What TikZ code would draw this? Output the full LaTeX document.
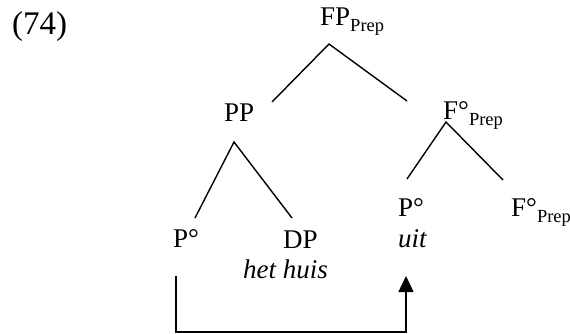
\documentclass[tikz,border=0pt]{standalone}
\usepackage{fontspec}
\setmainfont{Liberation Serif}
\usetikzlibrary{arrows.meta}
\newcommand{\sbs}[1]{\raisebox{-6pt}{\fontsize{18.5}{22}\selectfont #1}}
\begin{document}
\begin{tikzpicture}[x=1pt,y=-1pt,
  lbl/.style={inner sep=0pt,anchor=base west,font=\fontsize{27}{32}\selectfont},
  edge/.style={line width=1.4pt},
  mv/.style={line width=1.5pt}]
\useasboundingbox (0,0) rectangle (570,334);
\node[lbl,font=\fontsize{33}{38}\selectfont] (ex) at (12,35) {(74)};
\node[lbl] (fp) at (320,26) {FP\sbs{Prep}};
\node[lbl] (pp) at (224,122) {PP};
\node[lbl] (fm) at (443,120) {F°\sbs{Prep}};
\node[lbl] (pl) at (173,247) {P°};
\node[lbl] (dp) at (283,248) {DP};
\node[lbl] (hh) at (243,278) {\itshape het huis};
\node[lbl] (pr) at (398,216) {P°};
\node[lbl] (ui) at (398,247) {\itshape uit};
\node[lbl] (fr) at (511,216) {F°\sbs{Prep}};
% tree coordinates
\coordinate (a0) at (329,44);
\coordinate (a0l) at (272,102);
\coordinate (a0r) at (407,101);
\coordinate (a1) at (234,142);
\coordinate (a1l) at (195,218);
\coordinate (a1r) at (292,218);
\coordinate (a2) at (446,122);
\coordinate (a2l) at (407,179);
\coordinate (a2r) at (503,180);
\draw[edge] (a0l) -- (a0) -- (a0r);
\draw[edge] (a1l) -- (a1) -- (a1r);
\draw[edge] (a2l) -- (a2) -- (a2r);
% movement arrow
\coordinate (ms) at (176,276);
\coordinate (me) at (406,276);
\draw[mv,-{Triangle[length=16pt,width=15pt]}] (ms) |- (406,332) -- (me);
\end{tikzpicture}
\end{document}
